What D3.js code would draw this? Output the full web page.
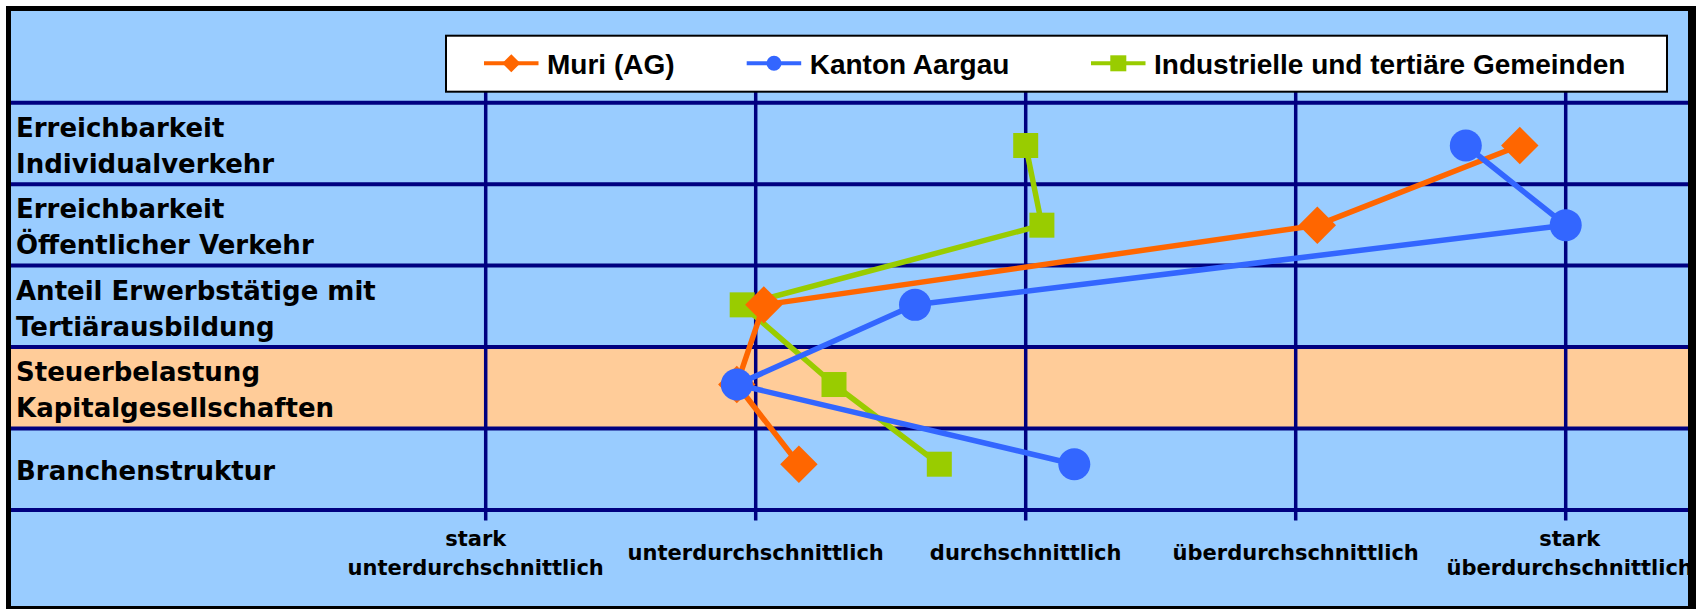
<!DOCTYPE html>
<html>
<head>
<meta charset="utf-8">
<script src="https://cdn.jsdelivr.net/npm/d3@7"></script>
<style>
  html, body { margin: 0; padding: 0; background: #ffffff; }
  svg { display: block; }
</style>
</head>
<body>
<div id="chart"></div>
<script>
// ---- data ----
const categories = [
  ["Erreichbarkeit", "Individualverkehr"],
  ["Erreichbarkeit", "Öffentlicher Verkehr"],
  ["Anteil Erwerbstätige mit", "Tertiärausbildung"],
  ["Steuerbelastung", "Kapitalgesellschaften"],
  ["Branchenstruktur"]
];
const highlightedRow = 3;
const tickLabels = [
  ["stark", "unterdurchschnittlich"],
  ["unterdurchschnittlich"],
  ["durchschnittlich"],
  ["überdurchschnittlich"],
  ["stark", "überdurchschnittlich"]
];
const tickValues = [0, 1, 2, 3, 4];
const seriesNames = ["Muri (AG)", "Kanton Aargau", "Industrielle und tertiäre Gemeinden"];
const muri = [3.83, 3.08, 1.03, 0.93, 1.16];
const kanton = [3.63, 4.00, 1.59, 0.93, 2.18];
const industrie = [2.00, 2.06, 0.95, 1.29, 1.68];

// ---- layout ----
const W = 1696, H = 609;
const colors = { muri: "#FF6600", kanton: "#3366FF", industrie: "#99CC00" };
const series = [
  { key: "industrie", name: seriesNames[2], values: industrie, color: colors.industrie, symbol: "square" },
  { key: "muri", name: seriesNames[0], values: muri, color: colors.muri, symbol: "diamond" },
  { key: "kanton", name: seriesNames[1], values: kanton, color: colors.kanton, symbol: "circle" }
];

const svg = d3.select("#chart").append("svg").attr("width", W).attr("height", H);

// frame
svg.append("rect").attr("x", 6).attr("y", 6).attr("width", W - 6).attr("height", H - 6).attr("fill", "#000");
svg.append("rect").attr("x", 11).attr("y", 11).attr("width", 1677).attr("height", 595).attr("fill", "#99CCFF");

const x = d3.scaleLinear().domain([0, 4]).range([485.7, 1565.7]);
const rowIdx = d3.range(categories.length);
const band = d3.scaleBand().domain(rowIdx).range([102.7, 510]).paddingInner(0).paddingOuter(0);
const yPt = d3.scaleLinear().domain([0, categories.length - 1]).range([145.5, 464.2]);

// highlighted band
svg.append("rect")
  .attr("x", 11).attr("width", 1677)
  .attr("y", band(highlightedRow)).attr("height", band.bandwidth())
  .attr("fill", "#FFCC99");

const g = svg.append("g");

// vertical grid lines (with ticks below the plot)
g.selectAll("line.v").data(tickValues).enter().append("line")
  .attr("class", "v")
  .attr("x1", d => x(d)).attr("x2", d => x(d))
  .attr("y1", 60).attr("y2", 520.5)
  .attr("stroke", "#000080").attr("stroke-width", 3.5);

// horizontal band borders
const hLines = rowIdx.map(i => band(i)).concat([band(categories.length - 1) + band.bandwidth()]);
g.selectAll("line.h").data(hLines).enter().append("line")
  .attr("class", "h")
  .attr("x1", 11).attr("x2", 1688)
  .attr("y1", d => d).attr("y2", d => d)
  .attr("stroke", "#000080").attr("stroke-width", 4);

// row labels
const rowLabels = svg.append("g")
  .attr("font-family", "'DejaVu Sans', Verdana, sans-serif")
  .attr("font-weight", "bold").attr("font-size", 26).attr("fill", "#000");
categories.forEach((lines, i) => {
  const c = band(i) + band.bandwidth() / 2;
  const t = rowLabels.append("text").attr("x", 16);
  if (lines.length === 2) {
    t.append("tspan").attr("x", 16).attr("y", c - 6.5).text(lines[0]);
    t.append("tspan").attr("x", 16).attr("y", c + 29.5).text(lines[1]);
  } else {
    t.append("tspan").attr("x", 16).attr("y", c + 11).text(lines[0]);
  }
});

// tick labels (edge labels nudged like the source rendering)
const tickG = svg.append("g")
  .attr("font-family", "'DejaVu Sans', Verdana, sans-serif")
  .attr("font-weight", "bold").attr("font-size", 21).attr("fill", "#000")
  .attr("text-anchor", "middle");
tickLabels.forEach((lines, i) => {
  const t = tickG.append("text");
  const nudge = i === 0 ? -10 : (i === tickLabels.length - 1 ? 4 : 0);
  const cx = x(tickValues[i]) + nudge;
  if (lines.length === 2) {
    t.append("tspan").attr("x", cx).attr("y", 545.5).text(lines[0]);
    t.append("tspan").attr("x", cx).attr("y", 575).text(lines[1]);
  } else {
    t.append("tspan").attr("x", cx).attr("y", 560).text(lines[0]);
  }
});

// series lines & markers
const line = d3.line().x(d => x(d)).y((d, i) => yPt(i));
function drawMarker(sel, symbol, color, big) {
  if (symbol === "circle") {
    sel.append("circle").attr("r", big ? 16 : 7.5).attr("fill", color);
  } else if (symbol === "diamond") {
    const h = big ? 18.7 : 9;
    sel.append("path").attr("d", `M0,${-h}L${h},0L0,${h}L${-h},0Z`).attr("fill", color);
  } else {
    const s = big ? 25 : 16;
    sel.append("rect").attr("x", -s / 2).attr("y", -s / 2).attr("width", s).attr("height", s).attr("fill", color);
  }
}
series.forEach(s => {
  const sg = svg.append("g");
  sg.append("path").datum(s.values).attr("d", line)
    .attr("fill", "none").attr("stroke", s.color).attr("stroke-width", 5.5)
    .attr("stroke-linejoin", "round");
  s.values.forEach((v, i) => {
    const m = sg.append("g").attr("transform", `translate(${x(v)},${yPt(i)})`);
    drawMarker(m, s.symbol, s.color, true);
  });
});

// redraw right/bottom frame over clipped labels
svg.append("rect").attr("x", 1688).attr("y", 6).attr("width", W - 1688).attr("height", H - 6).attr("fill", "#000");
svg.append("rect").attr("x", 6).attr("y", 606).attr("width", W - 6).attr("height", H - 606).attr("fill", "#000");

// legend
const leg = svg.append("g");
leg.append("rect").attr("x", 446).attr("y", 35.7).attr("width", 1221).attr("height", 56)
  .attr("fill", "#fff").attr("stroke", "#000").attr("stroke-width", 2);
const legendItems = [
  { s: series[1], x0: 484 },
  { s: series[2], x0: 746.7 },
  { s: series[0], x0: 1091 }
];
legendItems.forEach(it => {
  const ly = 63.3;
  leg.append("line").attr("x1", it.x0).attr("x2", it.x0 + 54.5).attr("y1", ly).attr("y2", ly)
    .attr("stroke", it.s.color).attr("stroke-width", 4);
  const m = leg.append("g").attr("transform", `translate(${it.x0 + 27.3},${ly})`);
  drawMarker(m, it.s.symbol, it.s.color, false);
  leg.append("text").attr("x", it.x0 + 63).attr("y", 74.3)
    .attr("font-family", "'Liberation Sans', Arial, sans-serif")
    .attr("font-weight", "bold").attr("font-size", 28).attr("fill", "#000")
    .text(it.s.name);
});
</script>
</body>
</html>
